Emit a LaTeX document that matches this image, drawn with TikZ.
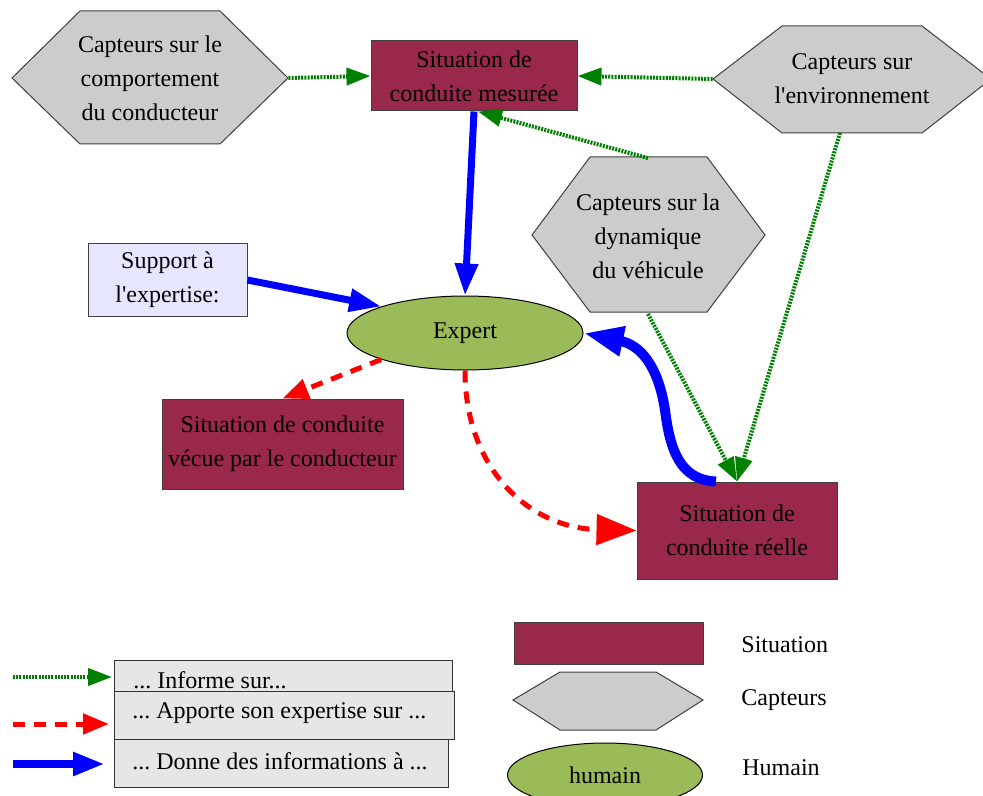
\documentclass[tikz,border=0pt]{standalone}
\usepackage{fontspec}
\setmainfont{Liberation Serif}
\usetikzlibrary{arrows.meta,shapes.geometric}
\definecolor{bordeaux}{RGB}{153,40,74}
\definecolor{capgris}{RGB}{204,204,204}
\definecolor{vert}{RGB}{155,187,89}
\definecolor{vertfonce}{RGB}{0,128,0}
\definecolor{lavande}{RGB}{230,230,255}
\definecolor{legris}{RGB}{230,230,230}
\frenchspacing

\begin{document}
\begin{tikzpicture}[x=0.5pt,y=-0.5pt,
	every node/.style={font=\fontsize{12}{17}\selectfont, align=center},
	situation/.style={draw=black!75, line width=0.5pt, fill=bordeaux, inner sep=0pt},
	capteur/.style={draw=black!75, line width=0.5pt, fill=capgris},
	txt/.style={inner sep=0pt},
	humain/.style={ellipse, draw=black, line width=0.5pt, fill=vert, inner sep=0pt},
	legende/.style={draw=black!80, line width=0.5pt, fill=legris, inner sep=0pt, anchor=north west},
	legtxt/.style={anchor=west, inner sep=0pt},
	informe/.style={vertfonce, line width=2pt, dash pattern=on 1pt off 0.6pt, -{Triangle[length=12pt,width=8.5pt]}},
	apporte/.style={red, line width=2.5pt, dash pattern=on 6pt off 4.5pt, -{Triangle[length=13pt,width=10pt]}},
	donne/.style={blue, line width=3.5pt, -{Triangle[length=16pt,width=11pt]}}]

	\useasboundingbox (0,0) rectangle (983,796);

	\filldraw[capteur] (12,78) -- (80,11) -- (220,11) -- (288,78) -- (220,144) -- (80,144) -- cycle;
	\filldraw[capteur] (713,79) -- (782,26) -- (922,26) -- (991,79) -- (922,133) -- (782,133) -- cycle;
	\filldraw[capteur] (532,235) -- (590,157) -- (707,157) -- (765,235) -- (707,312) -- (590,312) -- cycle;
	\filldraw[capteur] (513,700) -- (560,672) -- (656,672) -- (703,700) -- (656,730) -- (560,730) -- cycle;

	\node[txt, minimum width=138pt, minimum height=66.5pt] (comp) at (150,78) {Capteurs sur le\\comportement\\du conducteur};
	\node[txt, minimum width=139pt, minimum height=53.5pt] (env) at (852,79) {Capteurs sur\\l\textquotesingle environnement};
	\node[txt, minimum width=116.5pt, minimum height=77.5pt] (dyn) at (648,236) {Capteurs sur la\\dynamique\\du véhicule};

	\node[situation, minimum width=103pt, minimum height=35pt] (mes) at (474,76) {Situation de\\conduite mesurée};
	\node[situation, minimum width=120.5pt, minimum height=45pt] (vecue) at (282.5,444) {Situation de conduite\\vécue par le conducteur};
	\node[situation, minimum width=100pt, minimum height=48.5pt] (reelle) at (737,530.5) {Situation de\\conduite réelle};
	\node[draw=black!75, line width=0.5pt, fill=lavande, inner sep=0pt, minimum width=79.5pt, minimum height=36pt] (supp) at (167.5,280) {Support à\\l\textquotesingle expertise:};
	\node[humain, minimum width=118pt, minimum height=37pt] (expert) at (465,333) {Expert};

	\draw[informe] (comp.east) -- (mes.west);
	\draw[informe] (env.west) -- (mes.east);
	\draw[informe] (dyn.north) -- ([xshift=2pt]mes.south);
	\draw[informe] (dyn.south) -- (reelle.north);
	\draw[informe] ([xshift=-6pt]env.south) -- (reelle.north);

	\draw[donne] (mes.south) -- (expert.north);
	\draw[donne] (supp.east) -- (expert.north west);
	\draw[donne, line width=5pt, -{Triangle[length=20pt,width=14pt]}] ([xshift=-10.5pt]reelle.north) .. controls (680,480) and (670,450) .. (665,410) .. controls (658,365) and (640,345) .. (expert.east);

	\draw[apporte] (expert.south west) -- (vecue.north);
	\draw[apporte, -{Triangle[length=20pt,width=15pt]}] (expert.south) .. controls (465,470) and (530,528) .. (reelle.west);

	\node[legende, minimum width=169pt, minimum height=16pt] (inf) at (114,660) {};
	\node[legtxt] (tinf) at ([xshift=9.5pt,yshift=-2pt]inf.west) {... Informe sur...};
	\node[legende, minimum width=170pt, minimum height=24pt] (app) at (114,691) {};
	\node[legtxt] (tapp) at ([xshift=9pt,yshift=1pt]app.west) {... Apporte son expertise sur ...};
	\node[legende, minimum width=167pt, minimum height=24pt] (don) at (114,739) {};
	\node[legtxt] (tdon) at ([xshift=9pt,yshift=1pt]don.west) {... Donne des informations à ...};

	\coordinate (g0) at (13,677);
	\coordinate (g1) at (112,677);
	\coordinate (r0) at (13,724);
	\coordinate (r1) at (109,724);
	\coordinate (b0) at (13,764);
	\coordinate (b1) at (105,764);
	\draw[informe] (g0) -- (g1);
	\draw[apporte] (r0) -- (r1);
	\draw[donne, line width=4pt] (b0) -- (b1);

	\node[situation, minimum width=94.5pt, minimum height=21pt] (lsit) at (608.5,643) {};
	\node[txt, minimum width=95pt, minimum height=29pt] (lcap) at (608,701) {};
	\node[humain, minimum width=97.5pt, minimum height=32pt] (lhum) at (605,775) {humain};
	\node[anchor=west, inner sep=0pt] (tsit) at (741,645) {Situation};
	\node[anchor=west, inner sep=0pt] (tcap) at (741,700) {Capteurs};
	\node[anchor=west, inner sep=0pt] (thum) at (742,768) {Humain};
\end{tikzpicture}
\end{document}
